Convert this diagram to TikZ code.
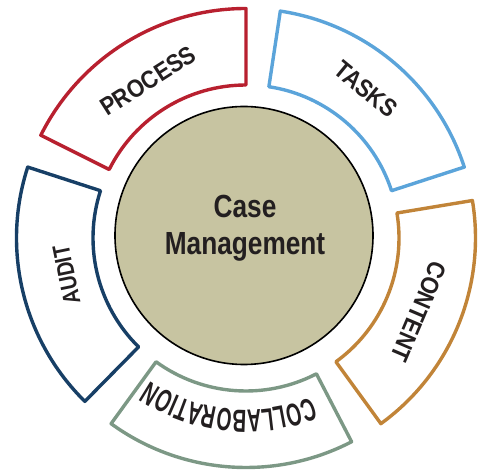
\documentclass[tikz,border=0pt]{standalone}
\usepackage{fontspec}
\setmainfont{Liberation Sans}
\newfontfamily\lblfont[FakeStretch=0.88]{Liberation Sans}
\newfontfamily\audfont[FakeStretch=0.82]{Liberation Sans}
\newfontfamily\colfont[FakeStretch=0.6]{Liberation Sans}
\newfontfamily\ctrfont[FakeStretch=0.82]{Liberation Sans}
\usetikzlibrary{decorations.text}
\definecolor{cprocess}{HTML}{B8202F}
\definecolor{ctasks}{HTML}{5BA4DA}
\definecolor{ccontent}{HTML}{C18438}
\definecolor{ccollab}{HTML}{7C9885}
\definecolor{caudit}{HTML}{173F66}
\definecolor{chub}{HTML}{C7C4A1}
\definecolor{ctext}{HTML}{231F20}
\tikzset{
  segbox/.style={line width=3.4pt, line join=round, fill=white},
  hub/.style={circle, draw=black, line width=1.6pt, fill=chub, minimum size=258pt, inner sep=0pt},
  lbl/.style={text=ctext, font=\lblfont\bfseries\fontsize{25}{25}\selectfont, inner sep=0pt},
}
\begin{document}
\begin{tikzpicture}[x=1pt,y=1pt]
\useasboundingbox (0,0) rectangle (482,471);
\coordinate (ring) at (246,233);
% ring segments
\foreach \a/\c in {49.7/ctasks, 121.7/cprocess, 193.7/caudit, 265.7/ccollab, 337.7/ccontent}{
  \draw[segbox, draw=\c, shift={(ring)}]
    ({\a-31.7}:153) arc[start angle={\a-31.7}, end angle={\a+31.7}, radius=153]
    -- ({\a+31.7}:229.5) arc[start angle={\a+31.7}, end angle={\a-31.7}, radius=229.5]
    -- cycle;
}
% hub
\node[hub] (hubc) at (244,235.5) {};
\node[text=ctext, align=center, font=\ctrfont\bfseries\fontsize{32}{37}\selectfont, inner sep=0pt] (hubtxt) at (245,242.8) {Case\\Management};
% labels
\node[lbl, rotate=32.5] (process) at (148.3,390.2) {PROCESS};
\node[lbl, rotate=-39.5] (tasks) at (365.8,381.8) {TASKS};
\node[lbl, rotate=-113.1] (content) at (419,159.3) {CONTENT};
\node[lbl, font=\audfont\bfseries\fontsize{24}{24}\selectfont, rotate=101.6] (audit) at (66.5,196) {AUDIT};
\path[shift={(ring)}, decorate, decoration={text along path, text align=center,
  text={|\color{ctext}\colfont\bfseries\fontsize{32}{32}\selectfont|COLLABORATION}}]
  (-55.8:172) arc[start angle=-55.8, end angle=-135.8, radius=172];
\coordinate (collab) at (246,55);
\end{tikzpicture}
\end{document}
